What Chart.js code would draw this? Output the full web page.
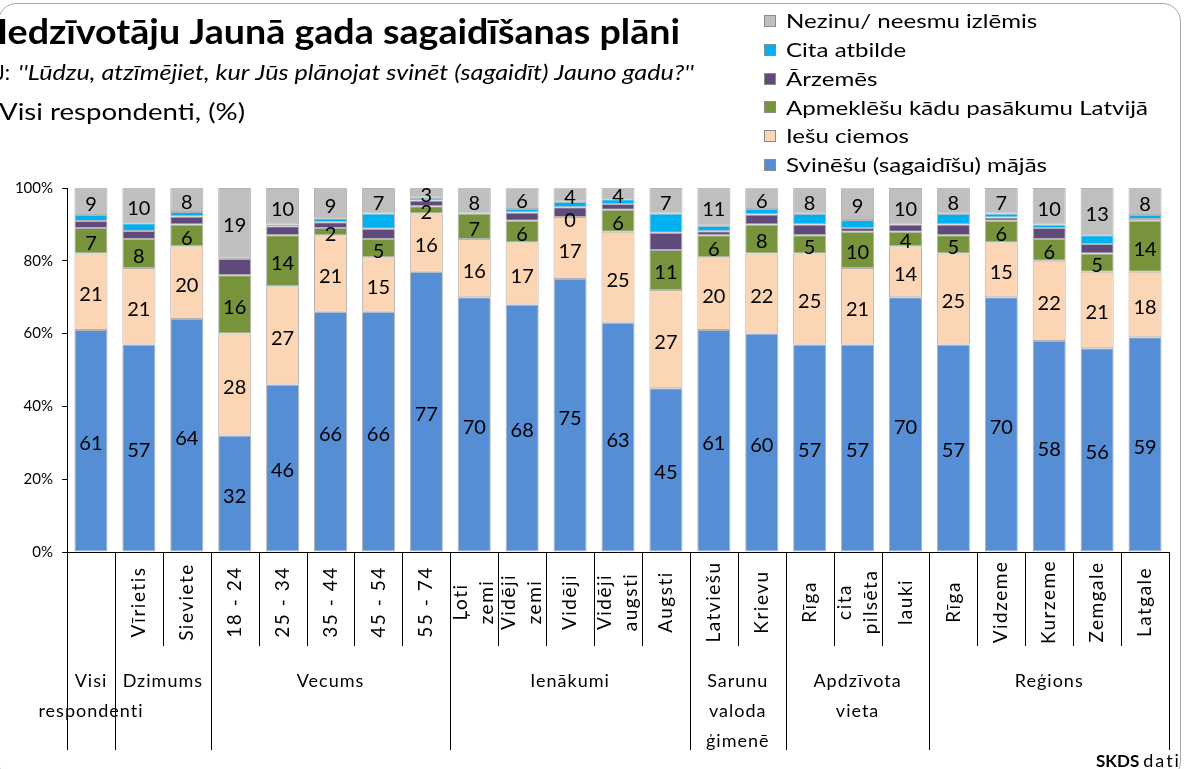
<!DOCTYPE html>
<html>
<head>
<meta charset="utf-8">
<script src="https://cdn.jsdelivr.net/npm/chart.js@4.4.1/dist/chart.umd.min.js"></script>
<style>
    html, body { margin: 0; padding: 0; background: #fff; }
    #wrap { width: 1184px; height: 769px; position: relative; overflow: hidden; }
</style>
</head>
<body>
<div id="wrap"><canvas id="chart" width="1184" height="769"></canvas></div>
<script>
// ---- data ----
const categories = [
    [""], ["Vīrietis"], ["Sieviete"],
    ["18 - 24"], ["25 - 34"], ["35 - 44"], ["45 - 54"], ["55 - 74"],
    ["Ļoti", "zemi"], ["Vidēji", "zemi"], ["Vidēji"], ["Vidēji", "augsti"], ["Augsti"],
    ["Latviešu"], ["Krievu"],
    ["Rīga"], ["cita", "pilsēta"], ["lauki"],
    ["Rīga"], ["Vidzeme"], ["Kurzeme"], ["Zemgale"], ["Latgale"],
];
const groupNames = [
    ["Visi", "respondenti"], ["Dzimums"], ["Vecums"], ["Ienākumi"],
    ["Sarunu", "valoda", "ģimenē"], ["Apdzīvota", "vieta"], ["Reģions"],
];
const groupSizes = [1, 2, 5, 5, 2, 3, 5];

const seriesNames = [
    "Svinēšu (sagaidīšu) mājās",
    "Iešu ciemos",
    "Apmeklēšu kādu pasākumu Latvijā",
    "Ārzemēs",
    "Cita atbilde",
    "Nezinu/ neesmu izlēmis",
];
const seriesColors = ["#558ED5", "#FCD5B5", "#77933C", "#604A7B", "#00B0F0", "#BFBFBF"];
const seriesLabeled = [true, true, true, false, false, true];

const svinesu   = [61, 57, 64, 32, 46, 66, 66, 77, 70, 68, 75, 63, 45, 61, 60, 57, 57, 70, 57, 70, 58, 56, 59];
const iesu      = [21, 21, 20, 28, 27, 21, 15, 16, 16, 17, 17, 25, 27, 20, 22, 25, 21, 14, 25, 15, 22, 21, 18];
const apmeklesu = [7, 8, 6, 16, 14, 2, 5, 2, 7, 6, 0, 6, 11, 6, 8, 5, 10, 4, 5, 6, 6, 5, 14];
// not labelled in the picture
const arzemes   = [1.9, 2.2, 2.2, 4.5, 2.5, 1.6, 2.8, 1.6, 0, 2.3, 2.7, 1.6, 4.7, 1.1, 2.7, 3.0, 1.0, 2.0, 3.0, 0.9, 3.0, 2.6, 0.5];
const cita      = [1.7, 2.1, 1.2, 0.5, 0.5, 1.1, 4.2, 0.7, 0, 0.9, 1.5, 1.3, 5.3, 1.5, 1.5, 2.9, 2.2, 0, 2.9, 1.1, 1.0, 2.4, 1.1];
const nezinu    = [9, 10, 8, 19, 10, 9, 7, 3, 8, 6, 4, 4, 7, 11, 6, 8, 9, 10, 8, 7, 10, 13, 8];

const seriesValues = [svinesu, iesu, apmeklesu, arzemes, cita, nezinu];
const yTicks = [0, 20, 40, 60, 80, 100];

const titleText = "Iedzīvotāju Jaunā gada sagaidīšanas plāni";
const questionText = "''Lūdzu, atzīmējiet, kur Jūs plānojat svinēt (sagaidīt) Jauno gadu?''";
const baseText = "Visi respondenti, (%)";

const FONT = "Lato, 'Open Sans', sans-serif";

// draw text squeezed/stretched to a given width (Calibri is narrower than Lato)
function fitText(ctx, text, x, y, width, font) {
    ctx.save();
    ctx.font = font;
    const w = ctx.measureText(text).width;
    ctx.translate(x, y);
    ctx.scale(width / w, 1);
    ctx.fillText(text, 0, 0);
    ctx.restore();
}

const framePlugin = {
    id: "frame",
    beforeDraw(chart) {
        const ctx = chart.ctx;
        ctx.save();
        ctx.fillStyle = "#fff";
        ctx.fillRect(0, 0, chart.width, chart.height);
        ctx.strokeStyle = "#A6A6A6";
        ctx.lineWidth = 1;
        ctx.beginPath();
        ctx.roundRect(-1.5, 3.5, 1182, 776, 18);
        ctx.stroke();
        ctx.restore();
    },
};

const segLabelPlugin = {
    id: "segLabels",
    afterDatasetsDraw(chart) {
        const ctx = chart.ctx;
        const top = chart.chartArea.top;
        ctx.save();
        ctx.font = `20px ${FONT}`;
        ctx.fillStyle = "#000";
        ctx.textAlign = "center";
        ctx.textBaseline = "middle";
        chart.data.datasets.forEach((ds, di) => {
            if (!seriesLabeled[di]) return;
            const meta = chart.getDatasetMeta(di);
            meta.data.forEach((bar, i) => {
                const yTop = Math.max(bar.y, top);
                const yc = (yTop + bar.base) / 2;
                ctx.fillText(String(ds.data[i]), bar.x, yc + 3);
            });
        });
        ctx.restore();
    },
};

const textPlugin = {
    id: "texts",
    afterDraw(chart) {
        const ctx = chart.ctx;
        const x = chart.scales.x;
        const area = chart.chartArea;
        const n = categories.length;
        const w = (x.right - x.left) / n;

        ctx.save();
        ctx.fillStyle = "#000";
        ctx.textAlign = "left";
        ctx.textBaseline = "alphabetic";

        // title block
        fitText(ctx, titleText, -3, 44, 683, `bold 35px ${FONT}`);
        ctx.font = `21px ${FONT}`;
        ctx.fillText("J:", -4, 80);
        fitText(ctx, questionText, 18, 80, 676, `italic 21px ${FONT}`);
        fitText(ctx, baseText, -1, 120, 246, `24px ${FONT}`);

        // legend, top to bottom is reverse stacking order
        ctx.font = `19px ${FONT}`;
        const legScale = 362 / ctx.measureText(seriesNames[2]).width;
        ctx.textBaseline = "middle";
        for (let r = 0; r < seriesNames.length; r++) {
            const si = seriesNames.length - 1 - r;
            const cy = 21 + r * 28.8;
            ctx.fillStyle = seriesColors[si];
            ctx.fillRect(764, Math.round(cy - 6), 12, 12);
            ctx.strokeStyle = "#8C8C8C";
            ctx.lineWidth = 1;
            ctx.strokeRect(764.5, Math.round(cy - 6) + 0.5, 11, 11);
            ctx.fillStyle = "#000";
            ctx.save();
            ctx.translate(786, cy + 1);
            ctx.scale(legScale, 1);
            ctx.fillText(seriesNames[si], 0, 0);
            ctx.restore();
        }

        // table under the x axis
        const starts = new Set();
        let k = 0;
        groupSizes.forEach((s) => { starts.add(k); k += s; });
        starts.add(n);
        ctx.strokeStyle = "#000";
        ctx.lineWidth = 1;
        for (let b = 0; b <= n; b++) {
            const px = Math.round(x.left + b * w) + 0.5;
            ctx.beginPath();
            ctx.moveTo(px, area.bottom);
            ctx.lineTo(px, starts.has(b) ? 750 : 646);
            ctx.stroke();
        }

        ctx.font = `19px ${FONT}`;
        ctx.letterSpacing = "1.5px";
        ctx.textAlign = "center";
        ctx.textBaseline = "middle";
        categories.forEach((lines, i) => {
            const cx = x.getPixelForValue(i);
            lines.forEach((t, j) => {
                const off = (j - (lines.length - 1) / 2) * 26;
                ctx.save();
                ctx.translate(cx + off, 602);
                ctx.rotate(-Math.PI / 2);
                ctx.fillText(t, 0, 0);
                ctx.restore();
            });
        });

        ctx.font = `18px ${FONT}`;
        ctx.letterSpacing = "1px";
        let g0 = 0;
        groupNames.forEach((lines, gi) => {
            const gx = x.left + (g0 + groupSizes[gi] / 2) * w;
            lines.forEach((t, j) => ctx.fillText(t, gx, 681 + j * 30));
            g0 += groupSizes[gi];
        });
        ctx.letterSpacing = "0px";

        // source
        ctx.textAlign = "left";
        ctx.textBaseline = "alphabetic";
        ctx.font = `bold 17px ${FONT}`;
        ctx.fillText("SKDS", 1096, 767);
        const sw = ctx.measureText("SKDS").width;
        ctx.font = `18px ${FONT}`;
        ctx.letterSpacing = "2px";
        ctx.fillText("dati", 1096 + sw + 4, 767);
        ctx.letterSpacing = "0px";
        ctx.restore();
    },
};

const datasets = seriesNames.map((name, i) => ({
    label: name,
    data: seriesValues[i],
    backgroundColor: seriesColors[i],
    borderColor: "rgba(128,128,128,0.6)",
    borderWidth: 1,
    borderSkipped: false,
    barPercentage: 0.69,
    categoryPercentage: 1,
}));

new Chart(document.getElementById("chart"), {
    type: "bar",
    data: {
        labels: categories.map((c) => c.join(" ")),
        datasets,
    },
    options: {
        responsive: false,
        animation: false,
        events: [],
        layout: { padding: { left: 0, top: 188, right: 15, bottom: 217 } },
        plugins: {
            legend: { display: false },
            title: { display: false },
            tooltip: { enabled: false },
        },
        scales: {
            x: {
                stacked: true,
                ticks: { display: false },
                grid: { display: false },
                border: { display: true, color: "#000", width: 1 },
                afterFit(scale) { scale.height = 0; },
            },
            y: {
                stacked: true,
                min: yTicks[0],
                max: yTicks[yTicks.length - 1],
                afterBuildTicks(scale) { scale.ticks = yTicks.map((v) => ({ value: v })); },
                ticks: {
                    callback: (v) => v + "%",
                    font: { family: FONT, size: 15 },
                    color: "#000",
                    padding: 9,
                },
                grid: { drawOnChartArea: false, tickLength: 5, color: "#000" },
                border: { color: "#000", width: 1 },
                afterFit(scale) { scale.width = 67; },
            },
        },
    },
    plugins: [framePlugin, segLabelPlugin, textPlugin],
});
</script>
</body>
</html>
